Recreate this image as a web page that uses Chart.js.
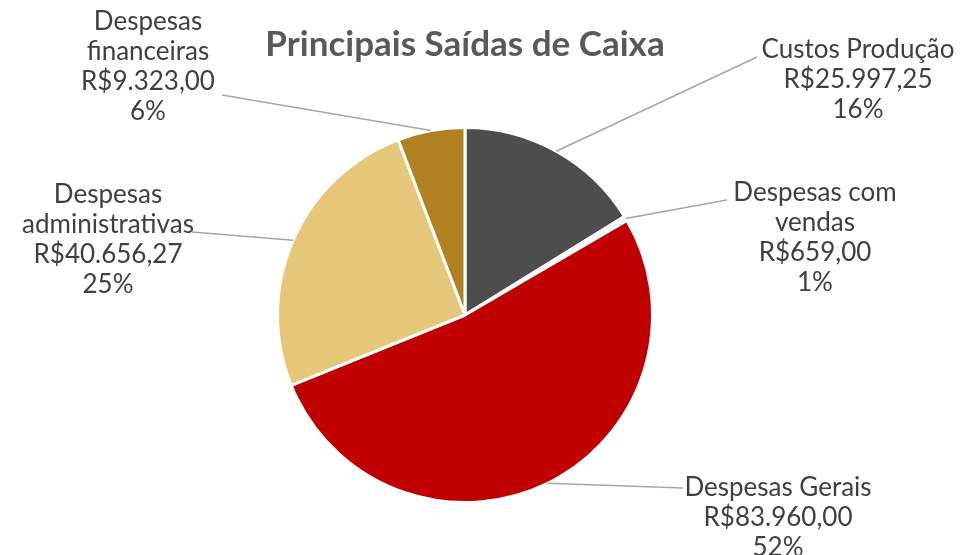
<!DOCTYPE html>
<html>
<head>
<meta charset="utf-8">
<script src="https://cdn.jsdelivr.net/npm/chart.js@4"></script>
<style>
  html, body { margin: 0; padding: 0; background: #fff; }
  #wrap { width: 967px; height: 555px; }
</style>
</head>
<body>
<div id="wrap"><canvas id="pieChart" width="967" height="555"></canvas></div>
<script>
// chart data
const categories = ['Custos Produção', 'Despesas com vendas', 'Despesas Gerais', 'Despesas administrativas', 'Despesas financeiras'];
const values = [25997.25, 659.00, 83960.00, 40656.27, 9323.00];
const percentLabels = ['16%', '1%', '52%', '25%', '6%'];
const colors = ['#4d4d4d', '#f2f2f2', '#c00000', '#e6c678', '#b08021'];

// label layout: wrapped name lines, text center x, first line y, leader attach point
const labelLayout = [
    { lines: ['Custos Produção'], x: 858, y: 50, attach: [757, 57] },
    { lines: ['Despesas com', 'vendas'], x: 815, y: 193, attach: [727, 200] },
    { lines: ['Despesas Gerais'], x: 778, y: 488, attach: [683, 488] },
    { lines: ['Despesas', 'administrativas'], x: 108, y: 195, attach: [192, 232] },
    { lines: ['Despesas', 'financeiras'], x: 148, y: 22, attach: [222, 95] }
];

const money = new Intl.NumberFormat('pt-BR', { minimumFractionDigits: 2, maximumFractionDigits: 2 });

const pieLabels = {
    id: 'pieLabels',
    afterDatasetsDraw(chart) {
        const ctx = chart.ctx;
        const arcs = chart.getDatasetMeta(0).data;
        ctx.save();
        arcs.forEach((arc, i) => {
            const lay = labelLayout[i];
            const mid = (arc.startAngle + arc.endAngle) / 2;
            const ex = arc.x + Math.cos(mid) * arc.outerRadius;
            const ey = arc.y + Math.sin(mid) * arc.outerRadius;
            ctx.strokeStyle = '#a6a6a6';
            ctx.lineWidth = 1.5;
            ctx.beginPath();
            ctx.moveTo(ex, ey);
            ctx.lineTo(lay.attach[0], lay.attach[1]);
            ctx.stroke();

            const text = lay.lines.concat(['R$' + money.format(values[i]), percentLabels[i]]);
            ctx.fillStyle = '#404040';
            ctx.font = '26px Lato';
            ctx.textAlign = 'center';
            ctx.textBaseline = 'middle';
            text.forEach((t, k) => ctx.fillText(t, lay.x, lay.y + k * 30));
        });
        ctx.restore();
    }
};

new Chart(document.getElementById('pieChart'), {
    type: 'pie',
    data: {
        labels: categories,
        datasets: [{
            data: values,
            backgroundColor: colors,
            borderColor: '#ffffff',
            borderWidth: 3
        }]
    },
    options: {
        responsive: false,
        animation: false,
        layout: { padding: { top: 0, bottom: 51, left: 0, right: 37 } },
        plugins: {
            legend: { display: false },
            tooltip: { enabled: false },
            title: {
                display: true,
                text: 'Principais Saídas de Caixa',
                color: '#595959',
                font: { family: 'Lato', size: 35, weight: 'bold' },
                padding: { top: 24, bottom: 60 }
            }
        }
    },
    plugins: [pieLabels]
});
</script>
</body>
</html>
